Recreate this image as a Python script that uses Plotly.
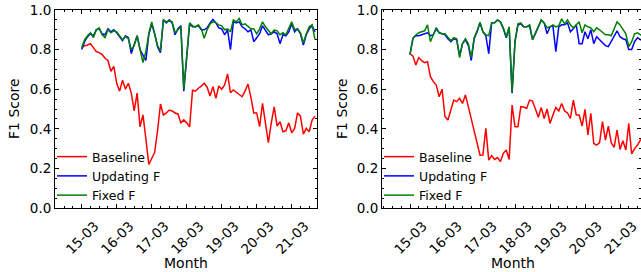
import pandas as pd
import plotly.graph_objects as go

# ---- data (2-hourly F1 scores, 15-03 00:00 onwards) ----
times = pd.date_range("2020-03-15 00:00", periods=81, freq="2h")
tick_vals = pd.date_range("2020-03-15", periods=7, freq="D")
tick_text = ["15-03", "16-03", "17-03", "18-03", "19-03", "20-03", "21-03"]
series_names = ["Baseline", "Updating F", "Fixed F"]

left_baseline = [0.81, 0.82, 0.823, 0.83, 0.81, 0.79, 0.785, 0.775, 0.756, 0.745,
                 0.69, 0.715, 0.63, 0.59, 0.645, 0.60, 0.63, 0.58, 0.49, 0.58,
                 0.41, 0.47, 0.35, 0.22, 0.25, 0.28, 0.39, 0.525, 0.47, 0.48,
                 0.495, 0.49, 0.48, 0.475, 0.43, 0.445, 0.43, 0.41, 0.595, 0.59,
                 0.605, 0.615, 0.63, 0.61, 0.566, 0.613, 0.554, 0.616, 0.60, 0.621,
                 0.677, 0.582, 0.596, 0.585, 0.57, 0.562, 0.59, 0.626, 0.56, 0.48,
                 0.48, 0.411, 0.528, 0.427, 0.33, 0.43, 0.511, 0.414, 0.436, 0.385,
                 0.39, 0.43, 0.38, 0.402, 0.48, 0.464, 0.373, 0.402, 0.385, 0.444,
                 0.464]
left_updating = [0.80, 0.84, 0.865, 0.88, 0.87, 0.90, 0.905, 0.88, 0.875, 0.905,
                 0.89, 0.90, 0.885, 0.865, 0.845, 0.87, 0.86, 0.78, 0.83, 0.87,
                 0.80, 0.77, 0.745, 0.875, 0.93, 0.88, 0.815, 0.785, 0.95, 0.935,
                 0.95, 0.935, 0.875, 0.905, 0.92, 0.59, 0.78, 0.93, 0.915, 0.915,
                 0.92, 0.90, 0.90, 0.91, 0.935, 0.953, 0.935, 0.91, 0.905, 0.875,
                 0.90, 0.80, 0.94, 0.935, 0.94, 0.915, 0.905, 0.89, 0.90, 0.84,
                 0.86, 0.88, 0.92, 0.90, 0.875, 0.88, 0.89, 0.88, 0.83, 0.875,
                 0.87, 0.89, 0.93, 0.89, 0.905, 0.88, 0.823, 0.875, 0.905, 0.92,
                 0.89]
left_fixed = [0.81, 0.85, 0.87, 0.885, 0.86, 0.90, 0.91, 0.875, 0.86, 0.90,
              0.885, 0.895, 0.89, 0.87, 0.85, 0.865, 0.855, 0.80, 0.82, 0.87,
              0.80, 0.735, 0.79, 0.88, 0.94, 0.88, 0.82, 0.795, 0.95, 0.94,
              0.945, 0.94, 0.885, 0.90, 0.915, 0.60, 0.79, 0.935, 0.92, 0.915,
              0.925, 0.905, 0.857, 0.90, 0.93, 0.94, 0.935, 0.925, 0.92, 0.90,
              0.905, 0.89, 0.95, 0.94, 0.958, 0.925, 0.93, 0.915, 0.905, 0.905,
              0.88, 0.905, 0.94, 0.915, 0.90, 0.88, 0.90, 0.895, 0.875, 0.885,
              0.875, 0.905, 0.94, 0.90, 0.905, 0.885, 0.835, 0.88, 0.915, 0.925,
              0.85]

right_baseline = [0.778, 0.768, 0.722, 0.76, 0.744, 0.734, 0.739, 0.663, 0.638, 0.621,
                  0.562, 0.60, 0.461, 0.444, 0.495, 0.545, 0.537, 0.554, 0.528, 0.571,
                  0.512, 0.45, 0.40, 0.327, 0.267, 0.268, 0.402, 0.242, 0.265, 0.245,
                  0.255, 0.234, 0.276, 0.293, 0.245, 0.52, 0.41, 0.41, 0.512, 0.51,
                  0.503, 0.545, 0.54, 0.50, 0.458, 0.508, 0.452, 0.50, 0.427, 0.47,
                  0.508, 0.49, 0.528, 0.49, 0.48, 0.452, 0.545, 0.47, 0.47, 0.414,
                  0.498, 0.369, 0.478, 0.326, 0.318, 0.33, 0.436, 0.343, 0.414, 0.33,
                  0.306, 0.394, 0.296, 0.34, 0.293, 0.427, 0.273, 0.30, 0.318, 0.343,
                  0.35]
right_updating = [0.776, 0.857, 0.87, 0.87, 0.875, 0.88, 0.885, 0.87, 0.875, 0.91,
                  0.885, 0.88, 0.875, 0.855, 0.84, 0.855, 0.85, 0.77, 0.83, 0.85,
                  0.82, 0.745, 0.855, 0.89, 0.935, 0.89, 0.87, 0.78, 0.935, 0.935,
                  0.95, 0.94, 0.905, 0.86, 0.91, 0.58, 0.84, 0.925, 0.93, 0.915,
                  0.915, 0.92, 0.85, 0.88, 0.915, 0.948, 0.935, 0.88, 0.915, 0.92,
                  0.79, 0.915, 0.925, 0.925, 0.935, 0.89, 0.905, 0.925, 0.83, 0.83,
                  0.89, 0.855, 0.90, 0.83, 0.865, 0.85, 0.835, 0.82, 0.815, 0.84,
                  0.865, 0.895, 0.865, 0.855, 0.85, 0.80, 0.80, 0.84, 0.86, 0.85,
                  0.85]
right_fixed = [0.776, 0.857, 0.874, 0.885, 0.89, 0.895, 0.925, 0.84, 0.875, 0.905,
               0.885, 0.88, 0.88, 0.86, 0.845, 0.86, 0.855, 0.76, 0.83, 0.855,
               0.83, 0.76, 0.86, 0.895, 0.938, 0.89, 0.875, 0.87, 0.935, 0.935,
               0.95, 0.94, 0.91, 0.865, 0.915, 0.585, 0.84, 0.93, 0.935, 0.915,
               0.915, 0.925, 0.85, 0.885, 0.915, 0.95, 0.935, 0.91, 0.915, 0.925,
               0.915, 0.92, 0.955, 0.93, 0.95, 0.925, 0.91, 0.925, 0.94, 0.885,
               0.925, 0.915, 0.91, 0.89, 0.91, 0.90, 0.885, 0.875, 0.875, 0.87,
               0.905, 0.94, 0.925, 0.90, 0.88, 0.815, 0.84, 0.88, 0.885, 0.875,
               0.87]

colors = ["#ff0000", "#0000ff", "#008000"]
W, H = 641, 272
FONT = "DejaVu Sans"

fig = go.Figure()
panels = [
    ("x", "y", "legend", [left_baseline, left_updating, left_fixed]),
    ("x2", "y2", "legend2", [right_baseline, right_updating, right_fixed]),
]
for xa, ya, lg, vals in panels:
    for name, v, c in zip(series_names, vals, colors):
        fig.add_trace(go.Scatter(x=times, y=v, name=name, mode="lines",
                                 line=dict(color=c, width=1.5),
                                 xaxis=xa, yaxis=ya, legend=lg))

def px_x(p):
    return p / W

def px_y(p):
    return 1 - p / H

ydom = [px_y(208), px_y(10)]
common_x = dict(type="date", tickmode="array", tickvals=tick_vals, ticktext=tick_text,
                tickangle=-45, ticks="inside", ticklen=4, tickcolor="black",
                showline=True, linecolor="black", linewidth=1, mirror="allticks",
                showgrid=False, zeroline=False, automargin=False,
                ticklabeloverflow="allow",
                minor=dict(dtick=6 * 3600 * 1000, tick0="2020-03-15", ticks="inside",
                           ticklen=2, tickcolor="black", showgrid=False),
                tickfont=dict(family=FONT, size=13.5, color="black"),
                ticklabelshift=13, ticklabelstandoff=4)
common_y = dict(range=[0, 1], tickvals=[0, 0.2, 0.4, 0.6, 0.8, 1.0], tickformat=".1f",
                ticks="inside", ticklen=4, tickcolor="black",
                showline=True, linecolor="black", linewidth=1, mirror="allticks",
                showgrid=False, zeroline=False, automargin=False,
                ticklabeloverflow="allow",
                minor=dict(dtick=0.05, ticks="inside", ticklen=2, tickcolor="black",
                           showgrid=False),
                tickfont=dict(family=FONT, size=13.5, color="black"))

fig.update_layout(
    width=W, height=H, margin=dict(l=0, r=0, t=0, b=0, autoexpand=False),
    paper_bgcolor="white", plot_bgcolor="white",
    font=dict(family=FONT, color="black"),
    xaxis=dict(domain=[px_x(55), px_x(317)],
               range=["2020-03-14 05:41", "2020-03-21 17:21"], anchor="y", **common_x),
    yaxis=dict(domain=ydom, anchor="x", **common_y),
    xaxis2=dict(domain=[px_x(382), 1.0],
                range=["2020-03-14 04:48", "2020-03-21 14:24"], anchor="y2", **common_x),
    yaxis2=dict(domain=ydom, anchor="x2", **common_y),
    legend=dict(x=px_x(52), y=px_y(142), xanchor="left", yanchor="top",
                bgcolor="rgba(0,0,0,0)", borderwidth=0,
                font=dict(family=FONT, size=12.5, color="black")),
    legend2=dict(x=px_x(379), y=px_y(142), xanchor="left", yanchor="top",
                 bgcolor="rgba(0,0,0,0)", borderwidth=0,
                 font=dict(family=FONT, size=12.5, color="black")),
    showlegend=True,
)

for xc in (14, 342):
    fig.add_annotation(text="F1 Score", x=px_x(xc), y=px_y(109), xref="paper", yref="paper",
                       showarrow=False, textangle=-90, xanchor="center", yanchor="middle",
                       font=dict(family=FONT, size=14, color="black"))
for xc in (186, 513):
    fig.add_annotation(text="Month", x=px_x(xc), y=px_y(263), xref="paper", yref="paper",
                       showarrow=False, xanchor="center", yanchor="middle",
                       font=dict(family=FONT, size=14, color="black"))

fig.write_html("out.html", config={"displayModeBar": False},
               post_script="document.body.style.margin='0';document.body.style.overflow='hidden';")
